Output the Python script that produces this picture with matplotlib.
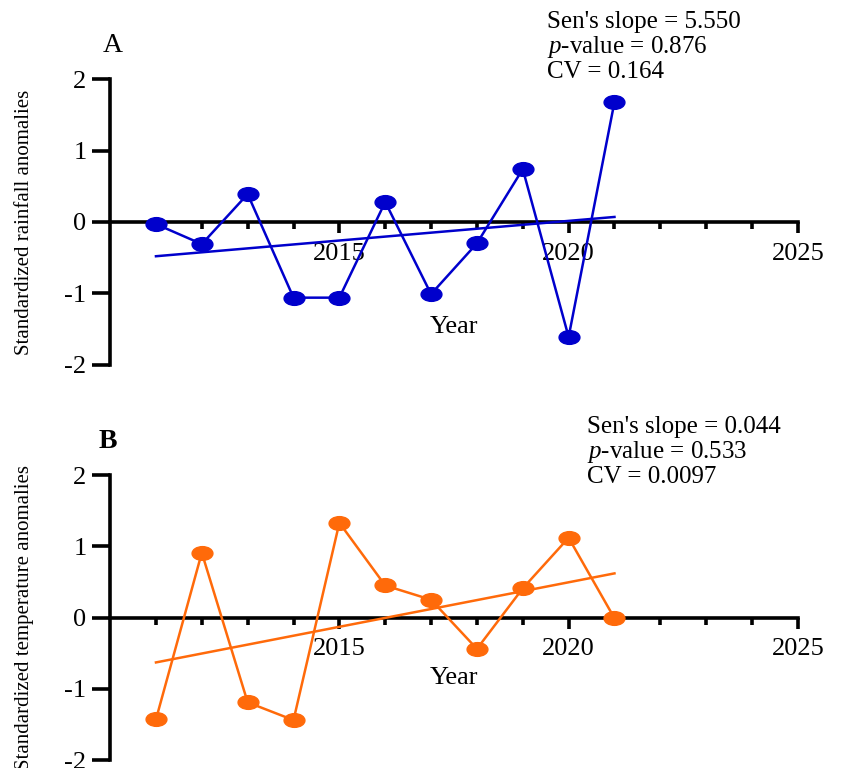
import matplotlib
matplotlib.use('Agg')
import matplotlib.pyplot as plt
from matplotlib.path import Path
from matplotlib.transforms import Affine2D

plt.rcParams['font.family'] = ['Liberation Serif', 'DejaVu Serif']
plt.rcParams['mathtext.fontset'] = 'custom'
plt.rcParams['mathtext.rm'] = 'Liberation Serif'
plt.rcParams['mathtext.it'] = 'Liberation Serif:italic'

# Data
years = [2011, 2012, 2013, 2014, 2015, 2016, 2017, 2018, 2019, 2020, 2021]
rain_anom = [-0.03, -0.31, 0.39, -1.06, -1.06, 0.28, -1.01, -0.30, 0.74, -1.61, 1.68]
temp_anom = [-1.43, 0.91, -1.19, -1.44, 1.33, 0.45, 0.25, -0.44, 0.41, 1.12, -0.01]
rain_trend = [-0.48, 0.07]   # trend values at first / last year
temp_trend = [-0.63, 0.62]

rain_stats = ["Sen's slope = 5.550", "$\\it{p}$-value = 0.876", "CV = 0.164"]
temp_stats = ["Sen's slope = 0.044", "$\\it{p}$-value = 0.533", "CV = 0.0097"]

blue = '#0000CC'
orange = '#FF6A0A'

# elliptical marker like the original
ellipse = Affine2D().scale(1.0, 0.66).transform_path(Path.unit_circle())

fig = plt.figure(figsize=(8.47, 7.68), dpi=100)
axA = fig.add_axes([0.130, 0.525, 0.812, 0.372])
axB = fig.add_axes([0.130, 0.0104, 0.812, 0.371])


def style_axis(ax, ylabel, year_y):
    ax.set_xlim(2010, 2025)
    ax.set_ylim(-2, 2)
    ax.spines['top'].set_visible(False)
    ax.spines['right'].set_visible(False)
    ax.spines['bottom'].set_position(('data', 0))
    for s in ['left', 'bottom']:
        ax.spines[s].set_linewidth(2.6)
        ax.spines[s].set_capstyle('projecting')
    ax.set_xticks([2015, 2020, 2025])
    ax.set_xticks([y for y in range(2011, 2025) if y % 5 != 0], minor=True)
    ax.set_yticks([-2, -1, 0, 1, 2])
    ax.set_yticklabels(['-2', '-1', '0', '1', '2'])
    ax.tick_params(axis='x', which='major', length=8, width=2.6, labelsize=19, pad=7)
    ax.tick_params(axis='x', which='minor', length=5, width=2.6)
    ax.tick_params(axis='y', which='major', length=13, width=2.6, labelsize=19, pad=4)
    ax.set_xlabel('Year', fontsize=19)
    ax.xaxis.set_label_coords(0.5, year_y)
    ax.xaxis.label.set_va('center')
    ax.set_ylabel(ylabel, fontsize=15)
    ax.yaxis.set_label_coords(-0.124, 0.5)
    ax.yaxis.label.set_va('center')
    ax.patch.set_visible(False)


style_axis(axA, 'Standardized rainfall anomalies', 0.133)
style_axis(axB, 'Standardized temperature anomalies', 0.288)

axA.plot(years, rain_anom, color=blue, lw=1.8, marker=ellipse, ms=15, zorder=3, clip_on=False)
axA.plot([years[0], years[-1]], rain_trend, color=blue, lw=1.8, zorder=3)

axB.plot(years, temp_anom, color=orange, lw=1.8, marker=ellipse, ms=15, zorder=3, clip_on=False)
axB.plot([years[0], years[-1]], temp_trend, color=orange, lw=1.8, zorder=3)

# panel letters
fig.text(113 / 847, 1 - 45 / 768, 'A', fontsize=20, ha='center', va='center')
fig.text(108 / 847, 1 - 442 / 768, 'B', fontsize=20, ha='center', va='center', fontweight='bold')

# statistics text
for i, line in enumerate(rain_stats):
    fig.text(547 / 847, 1 - (22 + 25 * i) / 768, line, fontsize=18, ha='left', va='center')
for i, line in enumerate(temp_stats):
    fig.text(587 / 847, 1 - (427 + 25 * i) / 768, line, fontsize=18, ha='left', va='center')

fig.savefig('out.png', dpi=100)
